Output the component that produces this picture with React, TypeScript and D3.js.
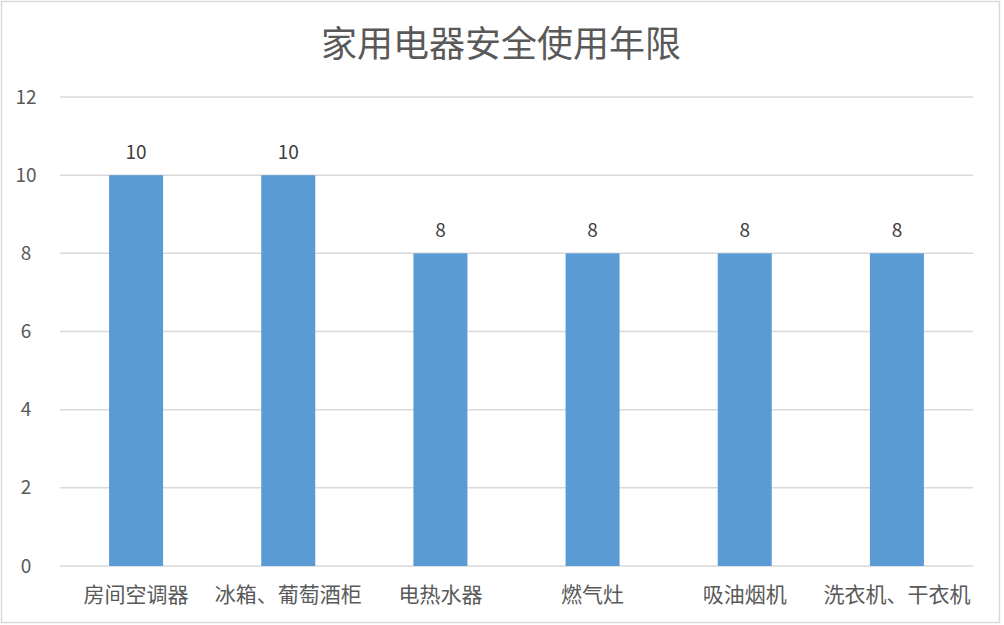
import * as d3 from 'd3';
import React from 'react';

const categories = ['房间空调器', '冰箱、葡萄酒柜', '电热水器', '燃气灶', '吸油烟机', '洗衣机、干衣机'];
const years = [10, 10, 8, 8, 8, 8];
const yTicks = [0, 2, 4, 6, 8, 10, 12];
const title = '家用电器安全使用年限';

const font = '"Noto Sans CJK SC", "Noto Sans", sans-serif';

function App() {
  const width = 1004;
  const height = 625;
  const margin = { top: 97, right: 31, bottom: 59, left: 60 };

  const x = d3
    .scaleBand<string>()
    .domain(categories)
    .range([margin.left, width - margin.right])
    .paddingInner(0.645)
    .paddingOuter(0.3225);

  const y = d3
    .scaleLinear()
    .domain([0, 12])
    .range([height - margin.bottom, margin.top]);

  return (
    <svg
      width={width}
      height={height}
      style={{ position: 'absolute', left: 0, top: 0, background: '#fff' }}
      fontFamily={font}
    >
      <rect x={1.5} y={1.5} width={width - 6} height={height - 4} fill="#fff" stroke="#d9d9d9" strokeWidth={1.5} />

      <text x={501} y={57} textAnchor="middle" fontSize={36} fill="#595959">
        {title}
      </text>

      <g className="grid">
        {yTicks.map((t) => (
          <g key={t}>
            <line
              x1={margin.left}
              x2={width - margin.right}
              y1={y(t)}
              y2={y(t)}
              stroke="#d9d9d9"
              strokeWidth={1.5}
            />
            <text x={26} y={y(t)} dy="0.35em" textAnchor="middle" fontSize={19} fill="#595959">
              {t}
            </text>
          </g>
        ))}
      </g>

      <g className="plot-area">
        {categories.map((c, i) => (
          <g key={c}>
            <rect
              x={x(c) || 0}
              y={y(years[i])}
              width={x.bandwidth()}
              height={y(0) - y(years[i])}
              fill="#5b9bd5"
            />
            <text
              x={(x(c) || 0) + x.bandwidth() / 2}
              y={y(years[i]) - 16}
              textAnchor="middle"
              fontSize={19}
              fill="#404040"
            >
              {years[i]}
            </text>
            <text
              x={(x(c) || 0) + x.bandwidth() / 2}
              y={595}
              dy="0.35em"
              textAnchor="middle"
              fontSize={21}
              fill="#595959"
            >
              {c}
            </text>
          </g>
        ))}
      </g>
    </svg>
  );
}

export default App;
